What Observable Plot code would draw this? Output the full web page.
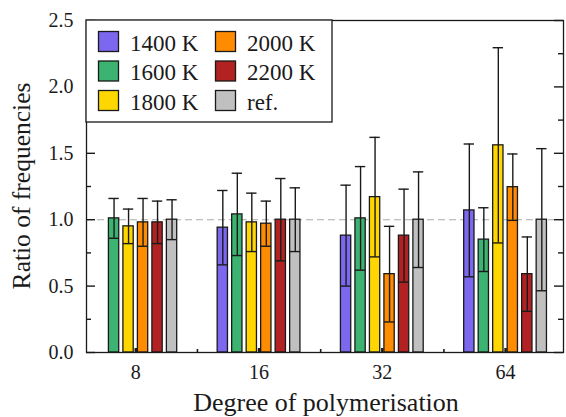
<!DOCTYPE html>
<html><head><meta charset="utf-8">
<script src="https://cdn.jsdelivr.net/npm/d3@7"></script>
<script src="https://cdn.jsdelivr.net/npm/@observablehq/plot@0.6"></script>
<style>
body{margin:0;background:#fff}
#chart{width:566px;height:417px}
svg{font-family:"Liberation Serif","DejaVu Serif",serif}
</style>
</head><body><div id="chart"></div>
<script>
// categories
const groups = ["8", "16", "32", "64"];
const series = ["1400 K", "1600 K", "1800 K", "2000 K", "2200 K", "ref."];
const colors = ["#7b68ee", "#3cb371", "#ffd700", "#ff8c00", "#b22222", "#c0c0c0"];
// values (ordered by groups; null = no bar) and error half-widths
const v1400 = [null, 0.94, 0.88, 1.07];
const e1400 = [null, 0.28, 0.38, 0.50];
const v1600 = [1.01, 1.04, 1.01, 0.85];
const e1600 = [0.15, 0.31, 0.39, 0.24];
const v1800 = [0.95, 0.98, 1.17, 1.56];
const e1800 = [0.13, 0.22, 0.45, 0.735];
const v2000 = [0.98, 0.97, 0.59, 1.245];
const e2000 = [0.18, 0.17, 0.36, 0.25];
const v2200 = [0.98, 1.00, 0.88, 0.59];
const e2200 = [0.16, 0.31, 0.35, 0.28];
const vRef  = [1.00, 1.00, 1.00, 1.00];
const eRef  = [0.15, 0.24, 0.36, 0.535];
const yMajor = [0, 0.5, 1.0, 1.5, 2.0, 2.5];
const yMinor = [0.25, 0.75, 1.25, 1.75, 2.25];
const xMajor = [0, 1, 2, 3];
const xMinor = [0.5, 1.5, 2.5];

const vals = [v1400, v1600, v1800, v2000, v2200, vRef];
const errs = [e1400, e1600, e1800, e2000, e2200, eRef];
const step = 0.1176, half = 0.0418, cap = 0.042;
const data = [];
series.forEach((s, k) => groups.forEach((g, gi) => {
  const v = vals[k][gi];
  if (v == null) return;
  const c = gi + (k - 2.5) * step;
  data.push({series: s, k, gi, c, value: v, err: errs[k][gi]});
}));

const W = 566, H = 417, mL = 86, mR = 3, mT = 20, mB = 65;
const iW = W - mL - mR, iH = H - mT - mB;
const ink = "#1a1a1a";
const plot = Plot.plot({
  width: W, height: H,
  marginLeft: mL, marginRight: mR, marginTop: mT, marginBottom: mB,
  style: {fontFamily: "'Liberation Serif', serif", background: "#fff"},
  x: {type: "linear", domain: [-0.4, 3.47], axis: null},
  y: {domain: [0, 2.5], axis: null},
  marks: [
    Plot.ruleY([1], {stroke: "#aaa", strokeWidth: 1.1, strokeDasharray: "7,4"}),
    Plot.tickX(xMajor, {x: d => d, insetTop: iH - 4, stroke: ink, strokeWidth: 2.5}),
    Plot.tickX(xMinor, {x: d => d, insetTop: iH - 3, stroke: ink, strokeWidth: 1.6}),
    Plot.rectY(data, {x1: d => d.c - half, x2: d => d.c + half, y: "value",
      fill: d => colors[d.k], stroke: ink, strokeWidth: 1.3}),
    Plot.ruleX(data, {x: "c", y1: d => d.value - d.err, y2: d => d.value + d.err, stroke: ink, strokeWidth: 1.4}),
    Plot.ruleY(data, {y: d => d.value + d.err, x1: d => d.c - cap, x2: d => d.c + cap, stroke: ink, strokeWidth: 1.4}),
    Plot.ruleY(data, {y: d => d.value - d.err, x1: d => d.c - cap, x2: d => d.c + cap, stroke: ink, strokeWidth: 1.4}),
    Plot.tickY(yMajor, {y: d => d, insetRight: iW - 9, stroke: ink, strokeWidth: 1.4}),
    Plot.tickY(yMinor, {y: d => d, insetRight: iW - 5, stroke: ink, strokeWidth: 1.4}),
    Plot.tickY(yMajor, {y: d => d, insetLeft: iW - 9, stroke: ink, strokeWidth: 1.4}),
    Plot.tickY(yMinor, {y: d => d, insetLeft: iW - 5, stroke: ink, strokeWidth: 1.4}),
    Plot.frame({stroke: ink, strokeWidth: 1.3}),
    Plot.axisY({anchor: "left", ticks: yMajor, tickSize: 0, tickPadding: 13, tickFormat: d3.format(".1f"), fontSize: 20, label: null, color: ink}),
    Plot.axisX({anchor: "bottom", ticks: xMajor, tickSize: 0, tickPadding: 12, tickFormat: i => groups[i], fontSize: 20, label: null, color: ink})
  ]
});
document.getElementById("chart").append(plot);

const svg = d3.select(plot);
// axis titles
svg.append("text").attr("transform", "translate(30,186) rotate(-90)")
  .attr("text-anchor", "middle").attr("font-size", 25.5).attr("fill", ink)
  .text("Ratio of frequencies");
svg.append("text").attr("x", 326).attr("y", 411)
  .attr("text-anchor", "middle").attr("font-size", 26).attr("fill", ink)
  .text("Degree of polymerisation");
// legend
const lg = svg.append("g").attr("text-anchor", "start");
lg.append("rect").attr("x", mL).attr("y", mT).attr("width", 246).attr("height", 102)
  .attr("fill", "#fff").attr("stroke", ink).attr("stroke-width", 1.3);
series.forEach((s, k) => {
  const col = Math.floor(k / 3), row = k % 3;
  const x0 = 98.5 + col * 117, y0 = 31.5 + row * 29.5;
  lg.append("rect").attr("x", x0).attr("y", y0).attr("width", 20).attr("height", 20)
    .attr("fill", colors[k]).attr("stroke", ink).attr("stroke-width", 1.3);
  lg.append("text").attr("x", x0 + 31.5).attr("y", y0 + 19).attr("text-anchor", "start")
    .attr("font-size", 23).attr("fill", ink).text(s);
});
</script>
</body></html>
